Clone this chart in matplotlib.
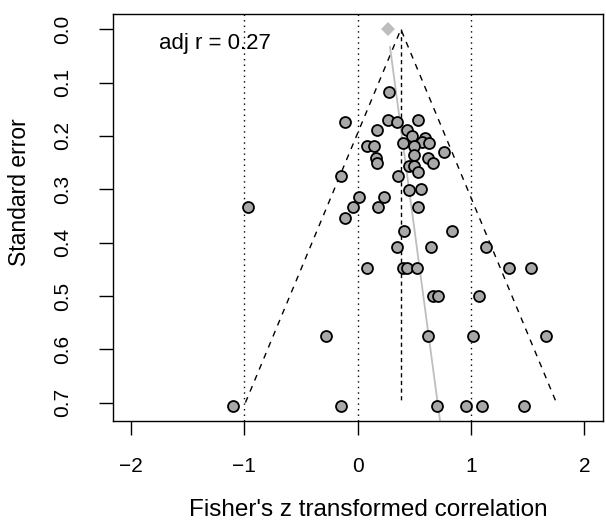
import matplotlib
matplotlib.use("Agg")
import matplotlib.pyplot as plt
import numpy as np

plt.rcParams['font.family'] = ['Liberation Sans', 'DejaVu Sans']

# Study effects (Fisher's z) and standard errors
z_values = [0.279, -0.112, 0.270, 0.344, 0.535, 0.168, 0.438, 0.476, 0.594, 0.565,
            0.632, 0.397, 0.497, 0.079, 0.144, 0.762, 0.497, 0.162, 0.168, 0.623,
            0.662, 0.455, 0.500, 0.530, -0.147, 0.353, 0.455, 0.559, 0.011, 0.235,
            -0.971, -0.039, 0.182, 0.535, -0.112, 0.411, 0.830, 0.344, 0.644, 1.130,
            0.079, 0.397, 0.438, 0.526, 1.335, 1.530, 0.662, 0.706, 1.071, -0.282,
            0.623, 1.020, 1.662, -1.098, -0.150, 0.697, 0.953, 1.100, 1.468]
se_values = [0.118, 0.173, 0.170, 0.173, 0.170, 0.189, 0.188, 0.200, 0.203, 0.211,
             0.213, 0.213, 0.219, 0.219, 0.219, 0.230, 0.236, 0.242, 0.250, 0.242,
             0.250, 0.256, 0.256, 0.267, 0.276, 0.276, 0.301, 0.300, 0.315, 0.315,
             0.333, 0.333, 0.333, 0.333, 0.353, 0.378, 0.378, 0.408, 0.408, 0.408,
             0.447, 0.447, 0.447, 0.447, 0.447, 0.447, 0.500, 0.500, 0.500, 0.576,
             0.576, 0.576, 0.576, 0.706, 0.706, 0.706, 0.706, 0.706, 0.706]

pooled_estimate = 0.381
funnel_max_se = 0.70
adjusted_estimate = 0.265
reg_intercept = 0.264
reg_slope = 0.630
reg_se_range = [0.033, 0.78]
ref_lines = [-1, 0, 1]
x_ticks = [-2, -1, 0, 1, 2]
x_tick_labels = ['\u22122', '\u22121', '0', '1', '2']
y_ticks = [0.0, 0.1, 0.2, 0.3, 0.4, 0.5, 0.6, 0.7]
y_tick_labels = ['0.0', '0.1', '0.2', '0.3', '0.4', '0.5', '0.6', '0.7']
annotation = "adj r = 0.27"

fig = plt.figure(figsize=(6.06, 5.27), dpi=100)
ax = fig.add_axes([113.3/606, 1-421/527, (602.7-113.3)/606, (421-14)/527])

# reference dotted lines
for v in ref_lines:
    ax.axvline(v, color='black', lw=1.0, linestyle=(0, (1, 3)), zorder=1)

# funnel
half = 1.96 * funnel_max_se
ax.plot([pooled_estimate - half, pooled_estimate, pooled_estimate + half],
        [funnel_max_se, 0, funnel_max_se], color='black', lw=1.0,
        linestyle=(0, (4.3, 4.3)), zorder=2)
ax.plot([pooled_estimate, pooled_estimate], [0, funnel_max_se], color='black', lw=1.0,
        linestyle=(0, (3, 2.5)), zorder=2)

# regression line
se_line = np.array(reg_se_range)
ax.plot(reg_intercept + reg_slope * se_line, se_line, color='#BEBEBE', lw=1.3, zorder=2)

# adjusted estimate diamond
ax.plot([adjusted_estimate], [0], marker='D', color='#BEBEBE', markersize=7.5,
        markeredgewidth=0, zorder=3)

# points
ax.scatter(z_values, se_values, s=62, facecolor='#A8A8A8', edgecolor='black',
           linewidths=1.3, zorder=4)

ax.text(-1.75, 0.026, annotation, ha='left', va='center', fontsize=16)

ax.set_xlim(-2.157, 2.162)
ax.set_ylim(0.7345, -0.0287)
ax.set_xticks(x_ticks)
ax.set_xticklabels(x_tick_labels)
ax.set_yticks(y_ticks)
ax.set_yticklabels(y_tick_labels, rotation=90, va='center')
ax.tick_params(axis='both', direction='out', length=10, width=1.0, labelsize=15)
ax.tick_params(axis='x', pad=16)
ax.tick_params(axis='y', pad=20)
for s in ax.spines.values():
    s.set_linewidth(1.0)

fig.text(368/606, 1-515.7/527, "Fisher's z transformed correlation", ha='center',
         va='baseline', fontsize=17.5)
fig.text(19.5/606, 1-191.7/527, "Standard error", ha='center', va='center',
         rotation=90, fontsize=16.5)

fig.savefig('out.png', dpi=100)
